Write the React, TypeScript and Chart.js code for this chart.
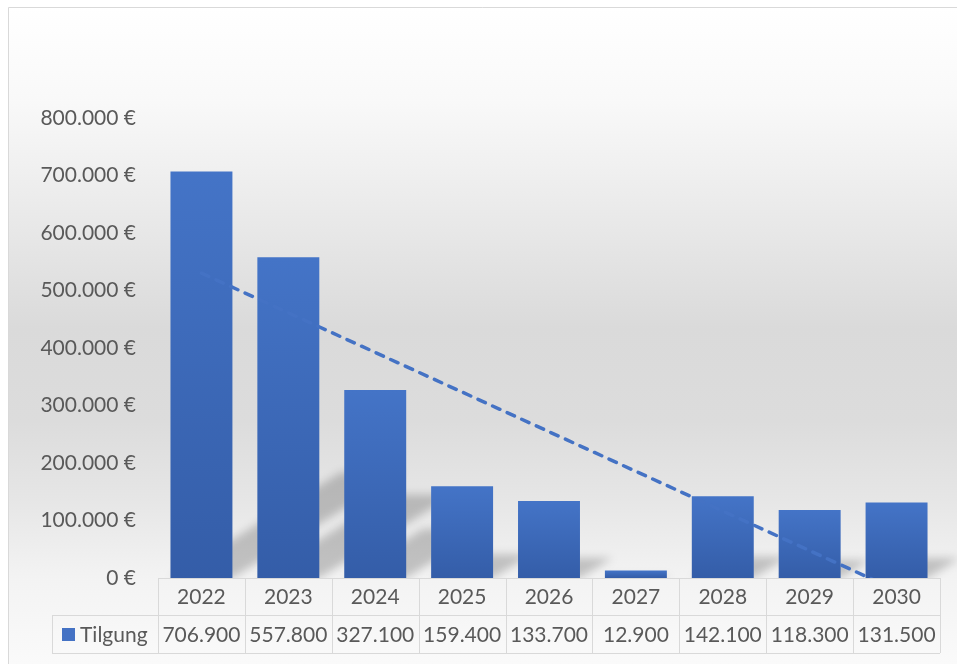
import React, { useEffect, useRef } from "react";
import { Chart, registerables } from "chart.js";

Chart.register(...registerables);

// ---- data ----
const categories = ["2022", "2023", "2024", "2025", "2026", "2027", "2028", "2029", "2030"];
const seriesName = "Tilgung";
const tilgung = [706900, 557800, 327100, 159400, 133700, 12900, 142100, 118300, 131500];
const yMin = 0;
const yMax = 800000;
const yStep = 100000;

// ---- helpers ----
function fmt(n: number): string {
  const s = Math.round(Math.abs(n)).toString().replace(/\B(?=(\d{3})+(?!\d))/g, ".");
  return (n < 0 ? "-" : "") + s;
}

// Excel-style linear trendline (least squares over category index)
function linearTrend(values: number[]): number[] {
  const n = values.length;
  const xs = values.map((_, i) => i + 1);
  const mx = xs.reduce((a, b) => a + b, 0) / n;
  const my = values.reduce((a, b) => a + b, 0) / n;
  let sxy = 0;
  let sxx = 0;
  for (let i = 0; i < n; i++) {
    sxy += (xs[i] - mx) * (values[i] - my);
    sxx += (xs[i] - mx) * (xs[i] - mx);
  }
  const slope = sxy / sxx;
  return xs.map((x) => my + slope * (x - mx));
}

const FONT = "Lato, 'Open Sans', sans-serif";
const TEXT = "#595959";
const GRID = "#d9d9d9";
const W = 949;
const H = 657;

const backgroundPlugin = {
  id: "bgFrame",
  beforeDraw(chart: any) {
    const ctx = chart.ctx;
    ctx.save();
    const g = ctx.createLinearGradient(0, 0, 0, chart.height);
    g.addColorStop(0, "#ffffff");
    g.addColorStop(0.14, "#f9f9f9");
    g.addColorStop(0.29, "#ececec");
    g.addColorStop(0.49, "#dadada");
    g.addColorStop(0.63, "#dcdcdc");
    g.addColorStop(0.75, "#e6e6e6");
    g.addColorStop(0.87, "#f3f3f3");
    g.addColorStop(1, "#fafafa");
    ctx.fillStyle = g;
    ctx.fillRect(0, 0, chart.width, chart.height);
    ctx.strokeStyle = GRID;
    ctx.lineWidth = 1;
    ctx.beginPath();
    ctx.moveTo(0.5, chart.height);
    ctx.lineTo(0.5, 0.5);
    ctx.lineTo(chart.width, 0.5);
    ctx.stroke();
    ctx.restore();
  },
};

const shadowPlugin = {
  id: "barShadow",
  beforeDatasetsDraw(chart: any) {
    const meta = chart.getDatasetMeta(0);
    if (!meta || !meta.data) return;
    const area = chart.chartArea;
    const ctx = chart.ctx;
    ctx.save();
    ctx.beginPath();
    ctx.rect(area.left, area.top, area.right - area.left + 20, area.bottom - area.top);
    ctx.clip();
    ctx.filter = "blur(4px)";
    ctx.fillStyle = "rgba(0,0,0,0.2)";
    meta.data.forEach((el: any) => {
      const props = el.getProps(["x", "y", "base", "width"], true);
      const hBar = props.base - props.y;
      if (hBar < 2) return;
      const h = hBar * 0.26;
      const s = h / 0.62;
      const a = props.x - props.width / 2;
      const b = props.x + props.width / 2;
      ctx.beginPath();
      ctx.moveTo(a, props.base);
      ctx.lineTo(b, props.base);
      ctx.lineTo(b + s, props.base - h);
      ctx.lineTo(a + s, props.base - h);
      ctx.closePath();
      ctx.fill();
    });
    ctx.restore();
  },
};

const tablePlugin = {
  id: "dataTable",
  afterDraw(chart: any) {
    const ctx = chart.ctx;
    const x = chart.scales.x;
    const area = chart.chartArea;
    const top = area.bottom;
    const mid = top + 37;
    const bottom = mid + 38;
    const firstLeft = 44;
    const n = categories.length;
    const colW = (area.right - area.left) / n;
    ctx.save();
    ctx.strokeStyle = GRID;
    ctx.lineWidth = 1;
    ctx.beginPath();
    // horizontal lines
    ctx.moveTo(area.left, Math.round(top) + 0.5);
    ctx.lineTo(area.right, Math.round(top) + 0.5);
    ctx.moveTo(firstLeft, mid + 0.5);
    ctx.lineTo(area.right, mid + 0.5);
    ctx.moveTo(firstLeft, bottom + 0.5);
    ctx.lineTo(area.right, bottom + 0.5);
    // vertical lines
    for (let i = 0; i <= n; i++) {
      const px = Math.round(area.left + i * colW) + 0.5;
      ctx.moveTo(px, top);
      ctx.lineTo(px, bottom);
    }
    ctx.moveTo(firstLeft + 0.5, mid);
    ctx.lineTo(firstLeft + 0.5, bottom);
    ctx.stroke();

    ctx.fillStyle = TEXT;
    ctx.font = `21px ${FONT}`;
    ctx.textAlign = "center";
    ctx.textBaseline = "middle";
    categories.forEach((c, i) => {
      const cx = x.getPixelForValue(i);
      ctx.fillText(c, cx, (top + mid) / 2 + 1);
      ctx.fillText(fmt(tilgung[i]), cx, (mid + bottom) / 2 + 1);
    });
    // legend key
    ctx.fillStyle = "#4472c4";
    ctx.fillRect(54, (mid + bottom) / 2 - 6, 13, 13);
    ctx.fillStyle = TEXT;
    ctx.textAlign = "left";
    ctx.fillText(seriesName, 72, (mid + bottom) / 2 + 1);
    ctx.restore();
  },
};

export default function App() {
  const ref = useRef<HTMLCanvasElement | null>(null);

  useEffect(() => {
    if (!ref.current) return;
    const trend = linearTrend(tilgung);
    const chart = new Chart(ref.current, {
      type: "bar",
      data: {
        labels: categories,
        datasets: [
          {
            type: "bar",
            label: seriesName,
            data: tilgung,
            order: 1,
            categoryPercentage: 1,
            barPercentage: 0.713,
            backgroundColor: (c: any) => {
              const chart = c.chart;
              const area = chart.chartArea;
              if (!area || c.type !== "data" || !chart.scales.y) return "#4472c4";
              const ys = chart.scales.y;
              const topPx = ys.getPixelForValue(c.parsed ? c.parsed.y : c.raw);
              const basePx = ys.getPixelForValue(0);
              if (!(basePx - topPx > 0.5)) return "#4472c4";
              const g = chart.ctx.createLinearGradient(0, topPx, 0, basePx);
              g.addColorStop(0, "#4474c7");
              g.addColorStop(1, "#345da8");
              return g;
            },
            borderWidth: 0,
          } as any,
          {
            type: "line",
            label: "Linear (Tilgung)",
            data: trend,
            order: 0,
            borderColor: "#4472c4",
            borderWidth: 3.5,
            borderDash: [8, 8],
            borderCapStyle: "round",
            pointRadius: 0,
            fill: false,
            tension: 0,
            clip: 0,
          } as any,
        ],
      },
      options: {
        animation: false,
        responsive: false,
        devicePixelRatio: 1,
        layout: { padding: { left: 0, right: 17, top: 111, bottom: 86 } },
        plugins: {
          legend: { display: false },
          tooltip: { enabled: false },
        },
        scales: {
          x: {
            display: false,
            offset: true,
          },
          y: {
            min: yMin,
            max: yMax,
            ticks: {
              stepSize: yStep,
              padding: 22,
              color: TEXT,
              font: { family: FONT, size: 21 },
              callback: (v: any) => `${fmt(Number(v))} €`,
            },
            grid: { display: false, drawTicks: false },
            border: { display: false },
            afterFit: (s: any) => {
              s.width = 150;
            },
          },
        },
      },
      plugins: [backgroundPlugin, shadowPlugin, tablePlugin],
    });
    return () => chart.destroy();
  }, []);

  return (
    <div style={{ position: "fixed", left: 8, top: 7, width: W, height: H }}>
      <canvas ref={ref} width={W} height={H} style={{ width: W, height: H, display: "block" }} />
    </div>
  );
}
